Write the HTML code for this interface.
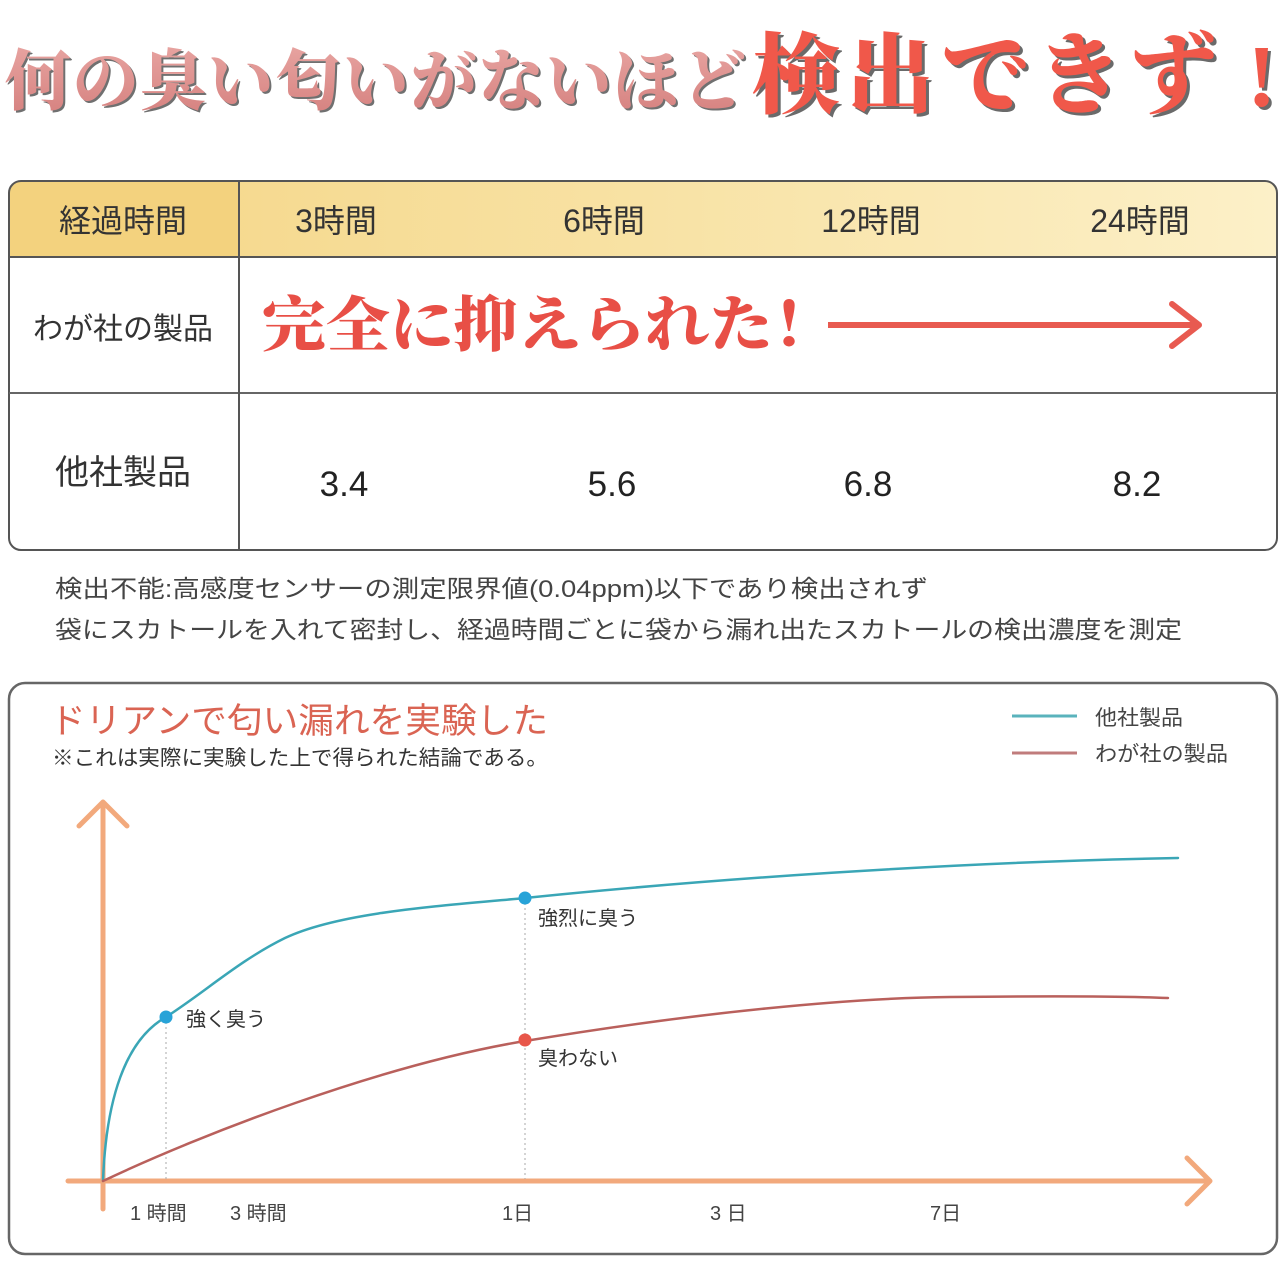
<!DOCTYPE html>
<html><head><meta charset="utf-8">
<style>
html,body{margin:0;padding:0;background:#fff;}
svg{display:block;}
text{font-family:"Liberation Sans","Noto Sans CJK JP",sans-serif;}
.srf{font-family:"Liberation Serif","Noto Serif CJK SC",serif;}
</style></head>
<body>
<svg width="1280" height="1280" viewBox="0 0 1280 1280" xmlns="http://www.w3.org/2000/svg">
<defs>
<linearGradient id="hdr" x1="0" y1="0" x2="1" y2="0">
<stop offset="0" stop-color="#f4d585"/>
<stop offset="0.5" stop-color="#f8e2a4"/>
<stop offset="1" stop-color="#fcf0c8"/>
</linearGradient>
<linearGradient id="pk" x1="0" y1="0" x2="0" y2="1">
<stop offset="0" stop-color="#e7a3a0"/>
<stop offset="1" stop-color="#d5807e"/>
</linearGradient>
<clipPath id="tclip"><rect x="9" y="181" width="1268" height="369" rx="12"/></clipPath>
</defs>

<!-- Title -->
<g font-weight="900">
<text class="srf" x="7" y="106" font-size="66" textLength="742" lengthAdjust="spacing" fill="#707070">何の臭い匂いがないほど</text>
<text class="srf" x="5" y="104" font-size="66" textLength="742" lengthAdjust="spacing" fill="url(#pk)">何の臭い匂いがないほど</text>
<text class="srf" x="755" y="109" font-size="88" textLength="466" lengthAdjust="spacing" fill="#6a6a6a">検出できず</text>
<text class="srf" x="752" y="106" font-size="88" textLength="466" lengthAdjust="spacing" fill="#f0584a">検出できず</text>
<text class="srf" x="1250" y="109" font-size="88" fill="#6a6a6a">!</text>
<text class="srf" x="1247" y="106" font-size="88" fill="#f0584a">!</text>
</g>

<!-- Table -->
<g clip-path="url(#tclip)">
<rect x="9" y="181" width="1268" height="76" fill="url(#hdr)"/>
<rect x="9" y="181" width="230" height="76" fill="#f3d27e"/>
</g>
<rect x="9" y="181" width="1268" height="369" rx="12" fill="none" stroke="#555" stroke-width="2"/>
<line x1="9" y1="257" x2="1277" y2="257" stroke="#555" stroke-width="2"/>
<line x1="9" y1="393" x2="1277" y2="393" stroke="#666" stroke-width="2"/>
<line x1="239" y1="181" x2="239" y2="550" stroke="#555" stroke-width="2"/>

<g fill="#333" font-size="32" text-anchor="middle">
<text x="123" y="232">経過時間</text>
<text x="336" y="232">3時間</text>
<text x="604" y="232">6時間</text>
<text x="871" y="232">12時間</text>
<text x="1140" y="232">24時間</text>
</g>
<text x="123" y="339" font-size="30" fill="#333" text-anchor="middle">わが社の製品</text>
<text x="123" y="484" font-size="34" fill="#333" text-anchor="middle">他社製品</text>

<text class="srf" x="262" y="346" font-size="60" font-weight="900" textLength="575" lengthAdjust="spacingAndGlyphs" fill="#e84f46">完全に抑えられた！</text>
<line x1="828" y1="325" x2="1196" y2="325" stroke="#e85a50" stroke-width="6"/>
<polyline points="1172,304 1199,325 1172,346" fill="none" stroke="#e85a50" stroke-width="6" stroke-linecap="round" stroke-linejoin="round"/>

<g fill="#222" font-size="35" text-anchor="middle">
<text x="344" y="496">3.4</text>
<text x="612" y="496">5.6</text>
<text x="868" y="496">6.8</text>
<text x="1137" y="496">8.2</text>
</g>

<!-- Notes -->
<text x="55" y="597" font-size="24" fill="#444" textLength="873" lengthAdjust="spacingAndGlyphs">検出不能:高感度センサーの測定限界値(0.04ppm)以下であり検出されず</text>
<text x="55" y="638" font-size="24" fill="#444" textLength="1127" lengthAdjust="spacingAndGlyphs">袋にスカトールを入れて密封し、経過時間ごとに袋から漏れ出たスカトールの検出濃度を測定</text>

<!-- Chart box -->
<rect x="9" y="683" width="1268" height="571" rx="16" fill="none" stroke="#666" stroke-width="2.5"/>
<text x="50" y="733" font-size="35" fill="#da6453" textLength="498" lengthAdjust="spacingAndGlyphs">ドリアンで匂い漏れを実験した</text>
<text x="52" y="765" font-size="21" fill="#333" textLength="496" lengthAdjust="spacingAndGlyphs">※これは実際に実験した上で得られた結論である。</text>

<!-- Legend -->
<line x1="1012" y1="716" x2="1077" y2="716" stroke="#5ab3bc" stroke-width="3"/>
<line x1="1012" y1="753" x2="1077" y2="753" stroke="#c07c7c" stroke-width="3"/>
<text x="1095" y="725" font-size="21" fill="#444" textLength="88" lengthAdjust="spacingAndGlyphs">他社製品</text>
<text x="1095" y="761" font-size="21" fill="#444" textLength="133" lengthAdjust="spacingAndGlyphs">わが社の製品</text>

<!-- Axes -->
<g stroke="#f2a97c" stroke-width="5" fill="none" stroke-linecap="round" stroke-linejoin="round">
<line x1="103" y1="803" x2="103" y2="1209"/>
<polyline points="79,826 103,802 127,826"/>
<line x1="68" y1="1181" x2="1209" y2="1181"/>
<polyline points="1187,1158 1210,1181 1187,1204"/>
</g>

<!-- dashed guides -->
<line x1="166" y1="1022" x2="166" y2="1179" stroke="#aaa" stroke-width="1" stroke-dasharray="2,3"/>
<line x1="525" y1="903" x2="525" y2="1179" stroke="#aaa" stroke-width="1" stroke-dasharray="2,3"/>

<!-- Curves -->
<path fill="none" stroke="#3aa6b6" stroke-width="2.5" stroke-linecap="round"
d="M103,1181 C106,1100 125,1040 166,1017 C205,992 240,960 285,938 C340,912 440,906 525,898 C700,880 950,862 1178,858"/>
<path fill="none" stroke="#b9605c" stroke-width="2.5" stroke-linecap="round"
d="M103,1181 C200,1135 380,1065 525,1041 C700,1012 850,998 950,997 C1050,996 1120,996 1168,998"/>

<circle cx="166" cy="1017" r="6.5" fill="#27a3d8"/>
<circle cx="525" cy="898" r="6.5" fill="#27a3d8"/>
<circle cx="525" cy="1040" r="6.5" fill="#e8564a"/>

<g font-size="20" fill="#333">
<text x="186" y="1026">強く臭う</text>
<text x="538" y="925">強烈に臭う</text>
<text x="538" y="1065">臭わない</text>
</g>

<g font-size="20" fill="#444">
<text x="130" y="1220">1 時間</text>
<text x="230" y="1220">3 時間</text>
<text x="502" y="1220">1日</text>
<text x="710" y="1220">3 日</text>
<text x="930" y="1220">7日</text>
</g>
</svg>
</body></html>
